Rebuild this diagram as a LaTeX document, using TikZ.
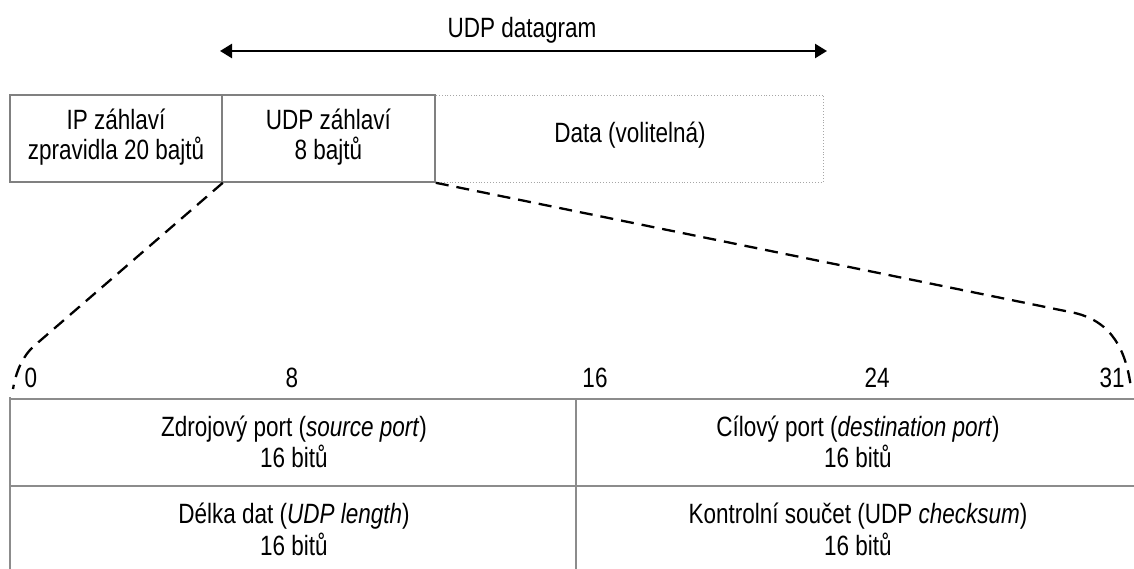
\documentclass[tikz,border=0pt]{standalone}
\usepackage{fontspec}
\setmainfont{Liberation Sans}
\usetikzlibrary{arrows.meta}
% slightly tall lettering
\newcommand{\tl}[1]{\scalebox{1}[1.24]{#1}}

\begin{document}
\begin{tikzpicture}[x=1pt,y=-1pt,
  lbl/.style={font=\fontsize{22.5}{27}\selectfont, inner sep=0pt, anchor=base},
  frame/.style={draw=black!50, line width=1.6pt, inner sep=0pt},
  dotframe/.style={draw=black!35, dotted, line width=0.9pt, inner sep=0pt},
  dashline/.style={draw=black, line width=2.3pt, dash pattern=on 13pt off 8pt},
  tline/.style={draw=black!45, line width=2pt},
  span/.style={{Triangle[length=12pt,width=14pt]}-{Triangle[length=12pt,width=14pt]}, line width=2.4pt}
]
\useasboundingbox (0,0) rectangle (1134,569);

% datagram span
\coordinate (al) at (220,51);
\coordinate (ar) at (827,51);
\draw[span] (al) -- (ar);
\node[lbl] (dglabel) at (522,38) {\tl{UDP datagram}};

% encapsulation row
\node[dotframe, minimum width=388pt, minimum height=87pt] (data) at (629,138.5) {};
\node[frame, minimum width=212pt, minimum height=87pt] (ip) at (116,138.5) {};
\node[frame, minimum width=213pt, minimum height=87pt] (udp) at (328.5,138.5) {};
\node[lbl] (ip1) at (116,130) {\tl{IP záhlaví}};
\node[lbl] (ip2) at (116,160) {\tl{zpravidla 20 bajtů}};
\node[lbl] (udp1) at (328.5,130) {\tl{UDP záhlaví}};
\node[lbl] (udp2) at (328.5,160) {\tl{8 bajtů}};
\node[lbl] (data1) at (630,143) {\tl{Data (volitelná)}};

% zoom lines to the header layout
\coordinate (c0) at (13,389);
\coordinate (c31) at (1131,388);
\draw[dashline] (ip.south east) -- (34,346) .. controls (22,357) and (16,372) .. (c0);
\draw[dashline] (udp.south east) -- (1075,313) .. controls (1112,322) and (1126,350) .. (c31);

% bit positions
\node[lbl] (b0) at (31,387) {\tl{0}};
\node[lbl] (b8) at (292,387) {\tl{8}};
\node[lbl] (b16) at (595,387) {\tl{16}};
\node[lbl] (b24) at (877,387) {\tl{24}};
\node[lbl] (b31) at (1112,387) {\tl{31}};

% header grid
\draw[tline] (10,399) -- (1134,399);
\draw[tline] (10,486) -- (1134,486);
\draw[tline] (10,397) -- (10,569);
\draw[tline] (576,399) -- (576,569);

% header fields
\node[lbl] (sp1) at (294,436) {\tl{Zdrojový port (\textit{source port})}};
\node[lbl] (sp2) at (294,467) {\tl{16 bitů}};
\node[lbl] (dp1) at (858,436) {\tl{Cílový port (\textit{destination port})}};
\node[lbl] (dp2) at (858,467) {\tl{16 bitů}};
\node[lbl] (ln1) at (294,523) {\tl{Délka dat (\textit{UDP length})}};
\node[lbl] (ln2) at (294,555) {\tl{16 bitů}};
\node[lbl] (cs1) at (858,523) {\tl{Kontrolní součet (UDP \textit{checksum})}};
\node[lbl] (cs2) at (858,555) {\tl{16 bitů}};
\end{tikzpicture}
\end{document}
